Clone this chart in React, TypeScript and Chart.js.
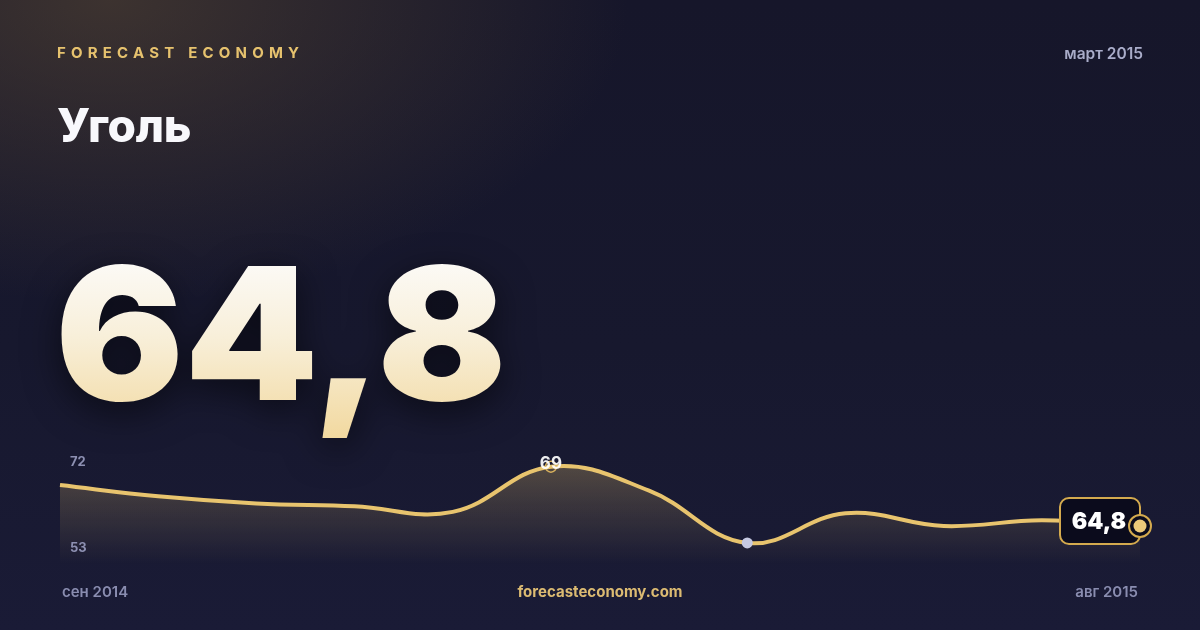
import React, { useEffect, useRef } from "react";
import { Chart, registerables } from "chart.js";

Chart.register(...registerables);

const BRAND = "FORECAST ECONOMY";
const TITLE = "Уголь";
const PERIOD = "март 2015";
const BIG_VALUE = "64,8";
const SITE = "forecasteconomy.com";
const MONTHS = [
  "сен 2014", "окт 2014", "ноя 2014", "дек 2014", "янв 2015", "фев 2015",
  "март 2015", "апр 2015", "май 2015", "июн 2015", "июл 2015", "авг 2015",
];
const VALUES = [67.7, 66.9, 66.4, 66.2, 65.8, 69.0, 67.3, 63.6, 65.7, 64.8, 65.2, 64.8];
const RANGE_LABELS = ["72", "53"];
const Y_MIN = 62.04;
const Y_MAX = 70.11;

const GOLD = "#e8c46e";
const FONT = "Inter, 'Noto Sans', sans-serif";

const fmt = (v: number) => v.toLocaleString("ru-RU", { maximumFractionDigits: 1 });

const markersPlugin = {
  id: "markers",
  afterDatasetsDraw(chart: any) {
    const meta = chart.getDatasetMeta(0);
    const data: number[] = chart.data.datasets[0].data;
    const ctx = chart.ctx as CanvasRenderingContext2D;
    let maxI = 0, minI = 0;
    data.forEach((v, i) => {
      if (v > data[maxI]) maxI = i;
      if (v < data[minI]) minI = i;
    });
    const last = data.length - 1;
    ctx.save();
    // max marker
    const pMax = meta.data[maxI];
    ctx.beginPath();
    ctx.arc(pMax.x, pMax.y, 5.5, 0, Math.PI * 2);
    ctx.strokeStyle = "#d9b25e";
    ctx.lineWidth = 1.5;
    ctx.stroke();
    ctx.font = `700 17px ${FONT}`;
    ctx.fillStyle = "rgba(255,255,255,0.92)";
    ctx.textAlign = "center";
    ctx.textBaseline = "alphabetic";
    ctx.fillText(fmt(data[maxI]), pMax.x, pMax.y + 2);
    // min marker
    const pMin = meta.data[minI];
    ctx.beginPath();
    ctx.arc(pMin.x, pMin.y, 5.5, 0, Math.PI * 2);
    ctx.fillStyle = "#c6c9e2";
    ctx.fill();
    // last badge
    const pL = meta.data[last];
    const bw = 80, bh = 46, r = 9;
    const bx = pL.x - bw, by = pL.y - 5 - bh / 2;
    ctx.beginPath();
    ctx.roundRect(bx, by, bw, bh, r);
    ctx.fillStyle = "#0b0b1c";
    ctx.fill();
    ctx.lineWidth = 2;
    ctx.strokeStyle = "#d4aa4e";
    ctx.stroke();
    ctx.font = `900 23px ${FONT}`;
    ctx.fillStyle = "#ffffff";
    ctx.textAlign = "center";
    ctx.textBaseline = "middle";
    ctx.fillText(fmt(data[last]), bx + bw / 2 - 1, by + bh / 2 + 1);
    // end marker
    ctx.beginPath();
    ctx.arc(pL.x, pL.y, 11, 0, Math.PI * 2);
    ctx.fillStyle = "#0b0b1c";
    ctx.fill();
    ctx.lineWidth = 2;
    ctx.strokeStyle = "#d4aa4e";
    ctx.stroke();
    ctx.beginPath();
    ctx.arc(pL.x, pL.y, 6.5, 0, Math.PI * 2);
    ctx.fillStyle = "#ecc979";
    ctx.fill();
    ctx.restore();
  },
};

function App() {
  const ref = useRef<HTMLCanvasElement | null>(null);
  useEffect(() => {
    document.body.style.margin = "0";
    if (!ref.current) return;
    const chart = new Chart(ref.current, {
      type: "line",
      data: {
        labels: MONTHS,
        datasets: [
          {
            data: VALUES,
            borderColor: GOLD,
            borderWidth: 4,
            tension: 0.4,
            pointRadius: 0,
            fill: "start",
            backgroundColor: (c: any) => {
              const area = c.chart.chartArea;
              if (!area) return "rgba(232,196,110,0.15)";
              const g = c.chart.ctx.createLinearGradient(0, area.top, 0, area.bottom);
              g.addColorStop(0, "rgba(232,196,110,0.32)");
              g.addColorStop(0.45, "rgba(232,196,110,0.17)");
              g.addColorStop(1, "rgba(232,196,110,0.0)");
              return g;
            },
          },
        ],
      },
      options: {
        responsive: false,
        animation: false,
        devicePixelRatio: 1,
        layout: { padding: { left: 60, right: 60, top: 451, bottom: 65 } },
        plugins: { legend: { display: false }, tooltip: { enabled: false } },
        scales: {
          x: { display: false },
          y: { display: false, min: Y_MIN, max: Y_MAX },
        },
      },
      plugins: [markersPlugin],
    });
    return () => chart.destroy();
  }, []);

  const base: React.CSSProperties = { position: "absolute", fontFamily: FONT, lineHeight: 1, whiteSpace: "nowrap" };

  return (
    <div
      style={{
        position: "fixed",
        left: 0,
        top: 0,
        width: 1200,
        height: 630,
        overflow: "hidden",
        background:
          "radial-gradient(ellipse 720px 420px at 110px 0px, rgba(92,74,52,0.55), rgba(92,74,52,0) 72%), linear-gradient(180deg, #16162a 0%, #17182e 55%, #1a1b36 100%)",
      }}
    >
      <canvas ref={ref} width={1200} height={630} style={{ position: "absolute", left: 0, top: 0 }} />
      <div style={{ ...base, left: 57, top: 45, fontSize: 15, fontWeight: 700, letterSpacing: 5.2, color: "#e6c26e" }}>{BRAND}</div>
      <div style={{ ...base, right: 57, top: 46, fontSize: 15.5, fontWeight: 600, color: "#a9acc9" }}>{PERIOD}</div>
      <div style={{ ...base, left: 57, top: 102, fontSize: 46, fontWeight: 800, color: "#f8f8fc", letterSpacing: -0.3 }}>{TITLE}</div>
      <div
        style={{
          ...base,
          left: 55,
          top: 241,
          fontSize: 184,
          fontWeight: 900,
          letterSpacing: 0,
          transform: "scaleX(1.04)",
          transformOrigin: "left top",
          background: "linear-gradient(180deg, #fdfdfe 0%, #f8efd9 45%, #f1d596 100%)",
          WebkitBackgroundClip: "text",
          backgroundClip: "text",
          color: "transparent",
          filter: "drop-shadow(0 10px 18px rgba(0,0,0,0.55))",
          paddingBottom: 30,
        }}
      >
        {BIG_VALUE}
      </div>
      <div style={{ ...base, left: 70, top: 455, fontSize: 13, fontWeight: 700, color: "#8d90b2" }}>{RANGE_LABELS[0]}</div>
      <div style={{ ...base, left: 70, top: 541, fontSize: 13, fontWeight: 700, color: "#8d90b2" }}>{RANGE_LABELS[1]}</div>
      <div style={{ ...base, left: 62, top: 584, fontSize: 15, fontWeight: 600, color: "#8a8db0" }}>{MONTHS[0]}</div>
      <div style={{ ...base, right: 62, top: 584, fontSize: 15, fontWeight: 600, color: "#8a8db0" }}>{MONTHS[MONTHS.length - 1]}</div>
      <div style={{ ...base, left: 0, width: 1200, textAlign: "center", top: 584, fontSize: 15, fontWeight: 700, color: "#dcbb72" }}>{SITE}</div>
    </div>
  );
}

export default App;
